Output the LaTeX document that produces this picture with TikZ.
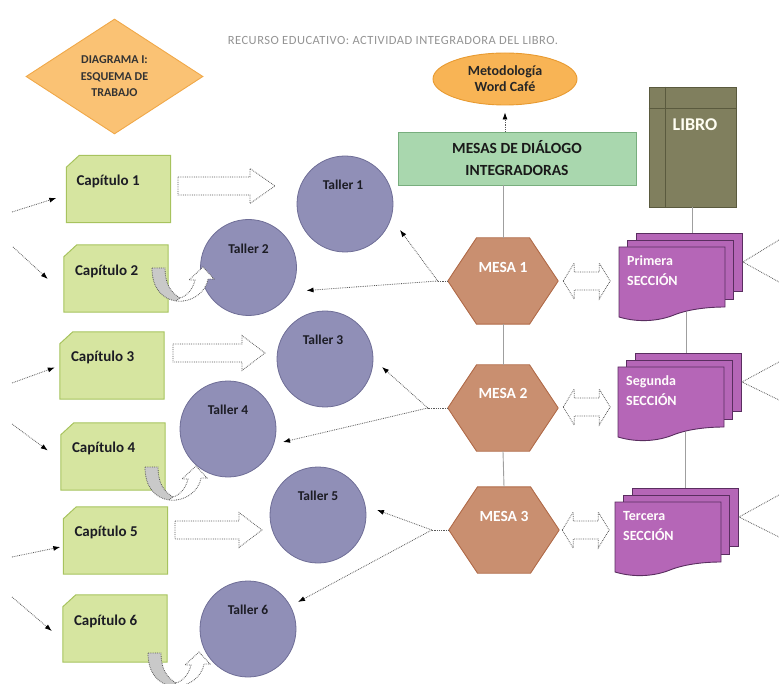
\documentclass[tikz,border=0pt]{standalone}
\usepackage{fontspec}
\setmainfont{Carlito}
\newfontfamily\titlefont[LetterSpace=4]{Carlito}
\usetikzlibrary{calc,arrows.meta,shapes.geometric}
\definecolor{capfill}{HTML}{D6E5A0}
\definecolor{capline}{HTML}{A7C35E}
\definecolor{tallfill}{HTML}{908FB7}
\definecolor{tallline}{HTML}{6E6D96}
\definecolor{mesafill}{HTML}{C98F70}
\definecolor{mesaline}{HTML}{B06A48}
\definecolor{secfill}{HTML}{B566B7}
\definecolor{secline}{HTML}{5A2E60}
\definecolor{greenfill}{HTML}{A9D7AE}
\definecolor{greenline}{HTML}{78AE7E}
\definecolor{bookfill}{HTML}{807F5E}
\definecolor{bookline}{HTML}{5A5A3E}
\definecolor{diafill}{HTML}{FAC274}
\definecolor{dialine}{HTML}{F0A848}
\definecolor{ellfill}{HTML}{F8B455}
\definecolor{ellline}{HTML}{E89A30}
\definecolor{textdark}{HTML}{1C1C24}
\definecolor{ugreyfill}{HTML}{C9C9C9}
\newcommand\capat[2]{%
  \node[capbase] (#1) at #2 {};
  \filldraw[fill=capfill,draw=capline,line width=1pt] ($(#1.north west)+(13,0)$) -- (#1.north east) -- (#1.south east) -- (#1.south west) -- ($(#1.north west)+(0,12)$) -- cycle;}
\newcommand\hexat[2]{%
  \node[hexbox] (#1) at #2 {};
  \filldraw[fill=mesafill,draw=mesaline,line width=0.9pt] (#1.west) -- ($(#1.north west)!0.26!(#1.north east)$) -- ($(#1.north west)!0.74!(#1.north east)$) -- (#1.east) -- ($(#1.south west)!0.74!(#1.south east)$) -- ($(#1.south west)!0.26!(#1.south east)$) -- cycle;}
\newcommand\multidoc[4]{%
  \begin{scope}[shift={#2}]
  \node[docpage, minimum height=58, anchor=north west] (#1b) at (17,-14) {};
  \node[docpage, minimum height=59, anchor=north west] (#1m) at (8,-7) {};
  \filldraw[fill=secfill,draw=secline,line width=0.9pt] (0,0) -- (106,0) -- (106,60) .. controls (90,60) and (70,62) .. (55,68) .. controls (40,74) and (20,76) .. (0,70) -- cycle;
  \coordinate (#1bot) at (67,65);
  \coordinate (#1fan) at (124,15);
  \node[doctext, anchor=west] (#1) at (8,24) {#3\\#4};
  \end{scope}}
\newcommand\fatarrow[3]{%
  \draw[hollow] #1 ++(0,-9) -- ++(#2,0) -- ++(0,-8.5) -- ++(#3,17.5) -- ++(-#3,17.5) -- ++(0,-8.5) -- ++(-#2,0) -- cycle;}
\newcommand\dblarrow[1]{%
  \draw[hollow] #1 -- ++(11,-18) -- ++(0,9) -- ++(25,0) -- ++(0,-9) -- ++(11,18) -- ++(-11,18) -- ++(0,-9) -- ++(-25,0) -- ++(0,9) -- cycle;}
\newcommand\uturn[1]{%
  \begin{scope}[shift={#1}]
  \filldraw[fill=ugreyfill,draw=gray!70!black,densely dotted,line width=0.8pt] (0,0) -- (13,0) .. controls (13,15) and (18,24) .. (28,30) -- (24,33) .. controls (10,31) and (0,20) .. (0,0) -- cycle;
  \filldraw[hollow] (24,33) .. controls (40,35) and (54,24) .. (56,11) -- (62,11) -- (51,-1) -- (37,12) -- (43,12) .. controls (41,21) and (35,28) .. (28,30) -- cycle;
  \end{scope}}
\begin{document}
\begin{tikzpicture}[x=1pt,y=-1pt,
  capbase/.style={rectangle, minimum width=104, minimum height=67, inner sep=0},
  captext/.style={font=\fontsize{15}{18}\selectfont\bfseries, text=textdark, anchor=west, inner sep=0},
  taller/.style={circle, minimum size=96, inner sep=0, fill=tallfill, draw=tallline, line width=0.8pt},
  tallertext/.style={font=\fontsize{13.5}{16}\selectfont\bfseries, text=textdark, inner sep=0},
  hexbox/.style={rectangle, minimum width=110, minimum height=86, inner sep=0},
  mesatext/.style={font=\fontsize{15.5}{18}\selectfont\bfseries, text=white, inner sep=0},
  docpage/.style={rectangle, minimum width=106, inner sep=0, fill=secfill, draw=secline, line width=0.9pt},
  doctext/.style={font=\fontsize{14}{20}\selectfont\bfseries, text=white!95!pink, align=left, inner sep=0},
  hollow/.style={draw=gray!70!black, densely dotted, fill=white, line width=0.8pt},
  conn/.style={densely dotted, draw=gray!70!black, line width=0.8pt, -{Latex[length=7pt,width=5pt,color=black]}},
  dotline/.style={densely dotted, draw=gray!70!black, line width=0.8pt},
  plainline/.style={draw=gray!75, line width=0.9pt}]
\useasboundingbox (0,0) rectangle (779,684);

% title and diagram label
\node[font=\titlefont\fontsize{12.5}{14}\selectfont, text=gray!85] (title) at (393,40) {RECURSO EDUCATIVO: ACTIVIDAD INTEGRADORA DEL LIBRO.};
\node[diamond, minimum width=177, minimum height=115, inner sep=0, fill=diafill, draw=dialine, line width=0.9pt, align=center, font=\fontsize{12}{16.5}\selectfont\bfseries, text=black!80] (diag) at (114.5,76.5) {DIAGRAMA I:\\ESQUEMA DE\\TRABAJO};

% top right
\node[ellipse, minimum width=144, minimum height=52, inner sep=0, fill=ellfill, draw=ellline, line width=0.9pt, align=center, font=\fontsize{14}{16}\selectfont\bfseries, text=black!85] (meto) at (505,79) {Metodología\\Word Café};
\node[rectangle, minimum width=238, minimum height=53, inner sep=0, fill=greenfill, draw=greenline, line width=0.9pt, align=center, font=\fontsize{15.5}{22}\selectfont\bfseries, text=black!90] (mesas) at (517,158.5) {MESAS DE DIÁLOGO\\INTEGRADORAS};
\draw[conn, shorten >=7pt] (mesas.north -| meto.south) -- (meto.south);

\node[rectangle, minimum width=87, minimum height=120, inner sep=0, fill=bookfill, draw=bookline, line width=0.8pt] (libro) at (692.5,147) {};
\draw[bookline, line width=0.9pt] ($(libro.north west)+(17,0)$) -- ($(libro.south west)+(17,0)$);
\draw[bookline, line width=0.9pt] ($(libro.north west)+(0,22)$) -- ($(libro.north east)+(0,22)$);
\node[font=\fontsize{18}{20}\selectfont\bfseries, text=white!95!yellow, inner sep=0] (librotext) at (695,125) {LIBRO};

% capitulos
\capat{c1}{(118.5,189)}
\capat{c2}{(116,278.5)}
\capat{c3}{(112,365.5)}
\capat{c4}{(113,456.5)}
\capat{c5}{(115.5,540.5)}
\capat{c6}{(115,628.5)}
\node[captext] (c1t) at ($(c1.north west)+(10,26)$) {Capítulo 1};
\node[captext] (c2t) at ($(c2.north west)+(11,27)$) {Capítulo 2};
\node[captext] (c3t) at ($(c3.north west)+(11,26)$) {Capítulo 3};
\node[captext] (c4t) at ($(c4.north west)+(11,26)$) {Capítulo 4};
\node[captext] (c5t) at ($(c5.north west)+(11,26)$) {Capítulo 5};
\node[captext] (c6t) at ($(c6.north west)+(11,27)$) {Capítulo 6};

% left edge arrows
\coordinate (l1) at (12,212);
\coordinate (l2) at (13,247);
\coordinate (l3) at (12,383);
\coordinate (l4) at (12,424);
\coordinate (l5) at (12,557);
\coordinate (l6) at (12,597);
\draw[conn] (l1) -- ($(c1.west)+(-10,9)$);
\draw[conn] (l2) -- ($(c2.west)+(-16,0.5)$);
\draw[conn] (l3) -- ($(c3.west)+(-5,2)$);
\draw[conn] (l4) -- ($(c4.west)+(-13,-6)$);
\draw[conn] (l5) -- ($(c5.west)+(-3,6.5)$);
\draw[conn] (l6) -- ($(c6.west)+(-11,2.5)$);

% talleres
\node[taller] (t1) at (345,204) {};
\node[taller] (t2) at (248.5,267.5) {};
\node[taller] (t3) at (325,359) {};
\node[taller] (t4) at (228,429) {};
\node[taller] (t5) at (318,515) {};
\node[taller] (t6) at (248,629) {};
\node[tallertext] at ($(t1)+(-2,-19)$) {Taller 1};
\node[tallertext] at ($(t2)+(0,-19)$) {Taller 2};
\node[tallertext] at ($(t3)+(-2,-19)$) {Taller 3};
\node[tallertext] at ($(t4)+(0,-19)$) {Taller 4};
\node[tallertext] at ($(t5)+(0,-19)$) {Taller 5};
\node[tallertext] at ($(t6)+(0,-19)$) {Taller 6};

% block arrows capitulo -> taller
\fatarrow{(178,186)}{72}{25}
\fatarrow{(173,353)}{69}{23}
\fatarrow{(175,530)}{64}{23}
\uturn{(152,268)}
\uturn{(145,467)}
\uturn{(148,653)}

% mesas
\hexat{m1}{(503,281)}
\hexat{m2}{(503,408)}
\hexat{m3}{(504,530)}
\node[mesatext] at ($(m1)+(0,-14)$) {MESA 1};
\node[mesatext] at ($(m2)+(0,-15)$) {MESA 2};
\node[mesatext] at ($(m3)+(0,-14)$) {MESA 3};
\draw[plainline] (m1.north) -- (m1.north |- mesas.south);
\draw[plainline] (m2.north) -- (m1.south);
\draw[plainline] (m3.north) -- (m2.south);

% mesa -> talleres
\coordinate (b1) at ($(m1.west)+(-10,0)$);
\coordinate (b2) at ($(m2.west)+(-20,0)$);
\coordinate (b3) at ($(m3.west)+(-17,0)$);
\draw[dotline] (m1.west) -- (b1);
\draw[dotline] (m2.west) -- (b2);
\draw[dotline] (m3.west) -- (b3);
\draw[conn] (b1) -- ($(t1)+(55,26)$);
\draw[conn] (b1) -- ($(t2)+(58,23)$);
\draw[conn] (b2) -- ($(t3)+(57,8)$);
\draw[conn] (b2) -- ($(t4)+(55,13)$);
\draw[conn] (b3) -- ($(t5)+(59,-5)$);
\draw[conn] (b3) -- ($(t6)+(50,-27)$);

% sections
\multidoc{s1}{(619,247)}{Primera}{SECCIÓN}
\multidoc{s2}{(618,367)}{Segunda}{SECCIÓN}
\multidoc{s3}{(615,502)}{Tercera}{SECCIÓN}
\draw[plainline] (libro.south) -- (libro.south |- s1b.north);
\draw[plainline] (s1bot) -- (s1bot |- s2b.north);
\draw[plainline] (s2bot) -- (s2bot |- s3b.north);

% double arrows
\dblarrow{($(m1.east)+(5,0)$)}
\dblarrow{($(m2.east)+(5,-1)$)}
\dblarrow{($(m3.east)+(3,0)$)}

% right fans
\coordinate (r1a) at (779,240);
\coordinate (r1b) at (779,282);
\coordinate (r2a) at (779,362);
\coordinate (r2b) at (779,400);
\coordinate (r3a) at (779,495);
\coordinate (r3b) at (779,537);
\draw[dotline] (r1a) -- (s1fan) -- (r1b);
\draw[dotline] (r2a) -- (s2fan) -- (r2b);
\draw[dotline] (r3a) -- (s3fan) -- (r3b);
\end{tikzpicture}
\end{document}
